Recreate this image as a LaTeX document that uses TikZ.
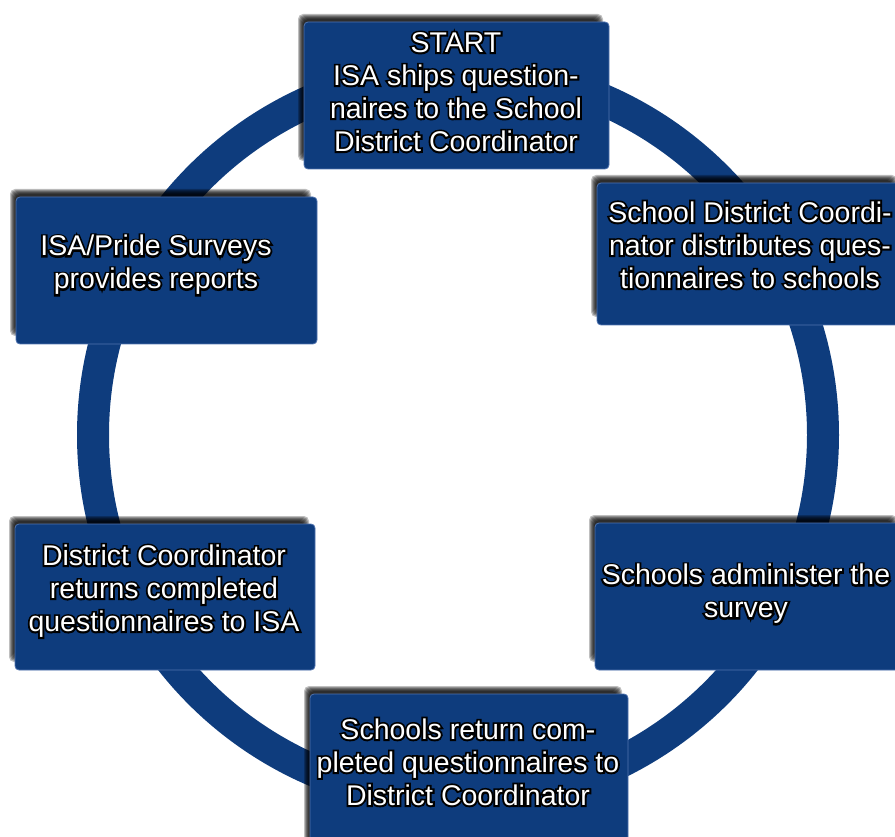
\documentclass[tikz,border=0pt]{standalone}
\usepackage{fontspec}
\setmainfont{Liberation Sans}
\newfontfamily\olfont[FakeBold=13]{Liberation Sans}
\definecolor{boxblue}{RGB}{14,60,125}
\definecolor{edgeblue}{RGB}{80,115,175}
% outlined text: an emboldened black copy under the white text
\newcommand{\ol}[1]{\rlap{\olfont\color{black}#1}#1}
\newcommand{\shadowlayers}[4]{%
  \foreach \i in {0,...,5}{%
    \fill[black, opacity=0.25, rounded corners=5pt] (#1-6+\i,#2-8+\i) rectangle (#3-6-\i,#4-8-\i);}}
\tikzset{
  stepbox/.style={fill=boxblue, draw=edgeblue, line width=0.8pt, rounded corners=4pt, inner sep=0pt},
  steptext/.style={text=white, align=center, font=\fontsize{28.5}{33}\selectfont, inner sep=0pt},
  ringline/.style={draw=boxblue, line width=32pt}
}
\begin{document}
\begin{tikzpicture}[x=1pt, y=-1pt]
\useasboundingbox (0,0) rectangle (895,837);
% ring
\coordinate (c) at (458,435);
\draw[ringline] (c) circle (365pt);
% shadows
\shadowlayers{304}{22}{609}{169}
\shadowlayers{597}{183}{903}{325}
\shadowlayers{595}{523}{903}{670}
\shadowlayers{310}{694}{628}{855}
\shadowlayers{15}{524}{315}{670}
\shadowlayers{16}{197}{317}{344}
% boxes
\node[stepbox, minimum width=305pt, minimum height=147pt] (b1) at (456.5,95.5) {};
\node[stepbox, minimum width=306pt, minimum height=142pt] (b2) at (750,254) {};
\node[stepbox, minimum width=308pt, minimum height=147pt] (b3) at (749,596.5) {};
\node[stepbox, minimum width=318pt, minimum height=161pt] (b4) at (469,774.5) {};
\node[stepbox, minimum width=300pt, minimum height=146pt] (b5) at (165,597) {};
\node[stepbox, minimum width=301pt, minimum height=147pt] (b6) at (166.5,270.5) {};
% texts
\node[steptext] (t1) at (456,92) {\ol{START}\\\ol{ISA ships question-}\\\ol{naires to the School}\\\ol{District Coordinator}};
\node[steptext] (t2) at (750,245) {\ol{School District Coordi-}\\\ol{nator distributes ques-}\\\ol{tionnaires to schools}};
\node[steptext] (t3) at (746,594) {\ol{Schools administer the}\\\ol{survey}};
\node[steptext] (t4) at (468,762) {\ol{Schools return com-}\\\ol{pleted questionnaires to}\\\ol{District Coordinator}};
\node[steptext] (t5) at (164,591) {\ol{District Coordinator}\\\ol{returns completed}\\\ol{questionnaires to ISA}};
\node[steptext] (t6) at (156,265) {\ol{ISA/Pride Surveys}\\\ol{provides reports}};
\end{tikzpicture}
\end{document}
